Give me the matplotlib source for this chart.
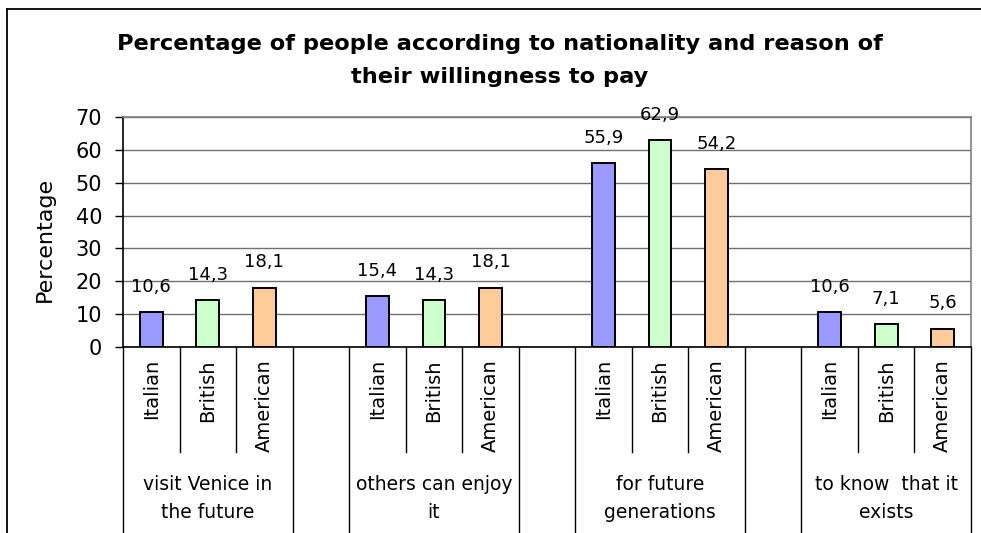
import matplotlib
matplotlib.use("Agg")
import matplotlib.pyplot as plt
import matplotlib.transforms as mtransforms
from matplotlib.lines import Line2D

# Data
reasons = [
    ["visit Venice in", "the future"],
    ["others can enjoy", "it"],
    ["for future", "generations"],
    ["to know  that it", "exists"],
]
nationalities = ["Italian", "British", "American"]
italian = [10.6, 15.4, 55.9, 10.6]
british = [14.3, 14.3, 62.9, 7.1]
american = [18.1, 18.1, 54.2, 5.6]
yticks = [0, 10, 20, 30, 40, 50, 60, 70]

series = [italian, british, american]
colors = ["#9999FF", "#CCFFCC", "#FFCC99"]

W, H = 981, 533
fig = plt.figure(figsize=(W / 100, H / 100), dpi=100)
fig.patch.set_facecolor("white")

ax = fig.add_axes([123 / W, 186 / H, 848 / W, 230 / H])

# each reason takes 3 slots + 1 empty slot between groups
slots_per_group = 4
for s, (vals, col) in enumerate(zip(series, colors)):
    xs = [g * slots_per_group + s for g in range(len(reasons))]
    ax.bar(xs, vals, width=0.4, color=col, edgecolor="black",
           linewidth=1.4, zorder=3)
    for x, v in zip(xs, vals):
        ax.annotate(f"{v:.1f}".replace(".", ","), (x, v), xytext=(0, 14.5),
                    textcoords="offset points", ha="center", va="baseline",
                    fontsize=13, zorder=4)

n_slots = len(reasons) * slots_per_group - 1
ax.set_xlim(-0.5, n_slots - 0.5)
ax.set_ylim(0, 70)
ax.set_yticks(yticks)
ax.set_xticks([])
ax.tick_params(axis="y", direction="out", length=6, width=1.0,
               labelsize=15, pad=9)
ax.yaxis.grid(True, color="#707070", linewidth=1.0, zorder=0)
ax.set_axisbelow(True)
for side in ("left", "bottom"):
    ax.spines[side].set_color("black")
    ax.spines[side].set_linewidth(1.2)
for side in ("right", "top"):
    ax.spines[side].set_color("#808080")
    ax.spines[side].set_linewidth(1.2)

fig.text(45 / W, 1 - 239 / H, "Percentage", rotation=90, ha="center",
         va="center", fontsize=16)

# Multi-level category axis below the plot
blend = mtransforms.blended_transform_factory(ax.transData, fig.transFigure)
y_axis = 1 - 347 / H
y_short = 1 - 452 / H
y_long = -0.05

for g, reason in enumerate(reasons):
    base = g * slots_per_group
    for i, name in enumerate(nationalities):
        ax.text(base + i, 1 - 359 / H, name, rotation=90, ha="center",
                va="top", transform=blend, fontsize=14)
    for k in (0.5, 1.5):
        ax.add_line(Line2D([base + k, base + k], [y_axis, y_short],
                           transform=blend, color="black", lw=1.0,
                           clip_on=False))
    center = base + 1
    ax.text(center, 1 - 490 / H, reason[0], ha="center", va="baseline",
            transform=blend, fontsize=13.5)
    ax.text(center, 1 - 518 / H, reason[1], ha="center", va="baseline",
            transform=blend, fontsize=13.5)

for xb in [g * slots_per_group - 0.5 for g in range(len(reasons))] + \
          [g * slots_per_group + 2.5 for g in range(len(reasons))]:
    ax.add_line(Line2D([xb, xb], [y_axis, y_long], transform=blend,
                       color="black", lw=1.0, clip_on=False))

ax.set_xlim(-0.5, n_slots - 0.5)
ax.set_ylim(0, 70)

# Title
fig.text(500 / W, 1 - 50 / H,
         "Percentage of people according to nationality and reason of",
         ha="center", va="baseline", fontsize=16.2, fontweight="bold")
fig.text(500 / W, 1 - 83 / H, "their willingness to pay",
         ha="center", va="baseline", fontsize=16.2, fontweight="bold")

# Chart frame
fig.add_artist(Line2D([7 / W, 7 / W], [-0.01, 1 - 9 / H], color="black",
                      lw=1.3))
fig.add_artist(Line2D([7 / W, 1.01], [1 - 9 / H, 1 - 9 / H], color="black",
                      lw=1.3))

fig.savefig("out.png", dpi=100)
